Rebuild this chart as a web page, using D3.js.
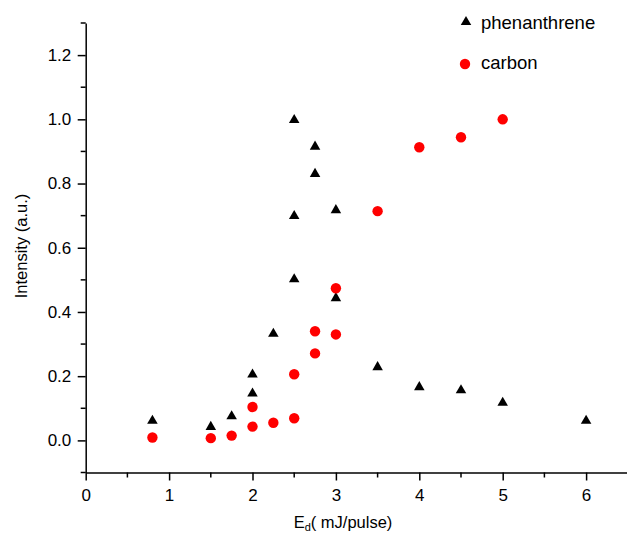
<!DOCTYPE html>
<html><head><meta charset="utf-8">
<script src="https://cdn.jsdelivr.net/npm/d3@7"></script>
<style>body{margin:0;background:#fff}svg{display:block}text{font-family:"Liberation Sans",Arial,sans-serif}</style>
</head><body>
<svg id="c" width="627" height="533"></svg>
<script>
const phenX = [0.8, 1.5, 1.75, 2, 2, 2.25, 2.5, 2.5, 2.5, 2.75, 2.75, 3, 3, 3.5, 4, 4.5, 5, 6];
const phenY = [0.061, 0.042, 0.075, 0.146, 0.205, 0.332, 0.502, 0.699, 0.998, 0.83, 0.915, 0.717, 0.443, 0.228, 0.166, 0.156, 0.117, 0.061];
const carbX = [0.8, 1.5, 1.75, 2, 2, 2.25, 2.5, 2.5, 2.75, 2.75, 3, 3, 3.5, 4, 4.5, 5];
const carbY = [0.009, 0.007, 0.015, 0.043, 0.104, 0.055, 0.069, 0.206, 0.271, 0.34, 0.33, 0.474, 0.714, 0.913, 0.944, 1.0];
const xTicks = [0, 1, 2, 3, 4, 5, 6];
const yTicks = [0.0, 0.2, 0.4, 0.6, 0.8, 1.0, 1.2];
const seriesNames = ["phenanthrene", "carbon"];

const svg = d3.select("#c");
const x = d3.scaleLinear().domain([0, 6.5]).range([85.7, 627.8]);
const y = d3.scaleLinear().domain([-0.1, 1.3]).range([472.5, 23]);

const xMinor = d3.range(0, 6.51, 0.5).filter(v => Math.abs(v - Math.round(v)) > 1e-6);
const yMinor = d3.range(-0.1, 1.31, 0.2).map(v => +v.toFixed(2));

const gx = svg.append("g").attr("transform", `translate(0,${y(-0.1)})`);
gx.call(d3.axisBottom(x).tickValues(xTicks).tickFormat(d3.format("d")).tickSize(8).tickSizeOuter(0));
gx.append("g").selectAll("line").data(xMinor).join("line")
  .attr("x1", d => x(d)).attr("x2", d => x(d)).attr("y1", 0).attr("y2", 5).attr("stroke", "#000").attr("stroke-width", 1.5);
const gy = svg.append("g").attr("transform", `translate(${x(0)},0)`);
gy.call(d3.axisLeft(y).tickValues(yTicks).tickFormat(d3.format(".1f")).tickSize(8).tickSizeOuter(0));
gy.append("g").selectAll("line").data(yMinor).join("line")
  .attr("y1", d => y(d)).attr("y2", d => y(d)).attr("x1", 0).attr("x2", -5).attr("stroke", "#000").attr("stroke-width", 1.5);
svg.selectAll(".domain").attr("stroke", "#000").attr("stroke-width", 1.5);
svg.selectAll(".tick line").attr("stroke", "#000").attr("stroke-width", 1.5);
svg.selectAll(".tick text").attr("font-size", 17).attr("fill", "#000").attr("font-family", '"Liberation Sans",Arial,sans-serif');
gx.selectAll(".tick text").attr("dy", "1.05em");
gy.selectAll(".tick text").attr("dx", "-0.2em");

const xt = svg.append("text").attr("x", 343).attr("y", 528).attr("text-anchor", "middle").attr("font-size", 16.5);
xt.append("tspan").text("E");
xt.append("tspan").attr("font-size", 11).attr("dy", 3).text("d");
xt.append("tspan").attr("dy", -3).text("( mJ/pulse)");
svg.append("text").attr("transform", "translate(27,246) rotate(-90)").attr("text-anchor", "middle").attr("font-size", 16.5).text("Intensity (a.u.)");

const tri = d3.symbol().type(d3.symbolTriangle).size(48);
svg.append("g").selectAll("path").data(phenX.map((d, i) => [d, phenY[i]])).join("path")
  .attr("d", tri).attr("transform", d => `translate(${x(d[0])},${y(d[1])})`).attr("fill", "#000");
svg.append("g").selectAll("circle").data(carbX.map((d, i) => [d, carbY[i]])).join("circle")
  .attr("cx", d => x(d[0])).attr("cy", d => y(d[1])).attr("r", 5.2).attr("fill", "#ff0000");

const lg = svg.append("g");
lg.append("path").attr("d", tri).attr("transform", "translate(466,22)").attr("fill", "#000");
lg.append("text").attr("x", 481).attr("y", 29).attr("font-size", 18.5).text(seriesNames[0]);
lg.append("circle").attr("cx", 465).attr("cy", 64).attr("r", 5.2).attr("fill", "#ff0000");
lg.append("text").attr("x", 481).attr("y", 69).attr("font-size", 18.5).text(seriesNames[1]);
</script>
</body></html>
